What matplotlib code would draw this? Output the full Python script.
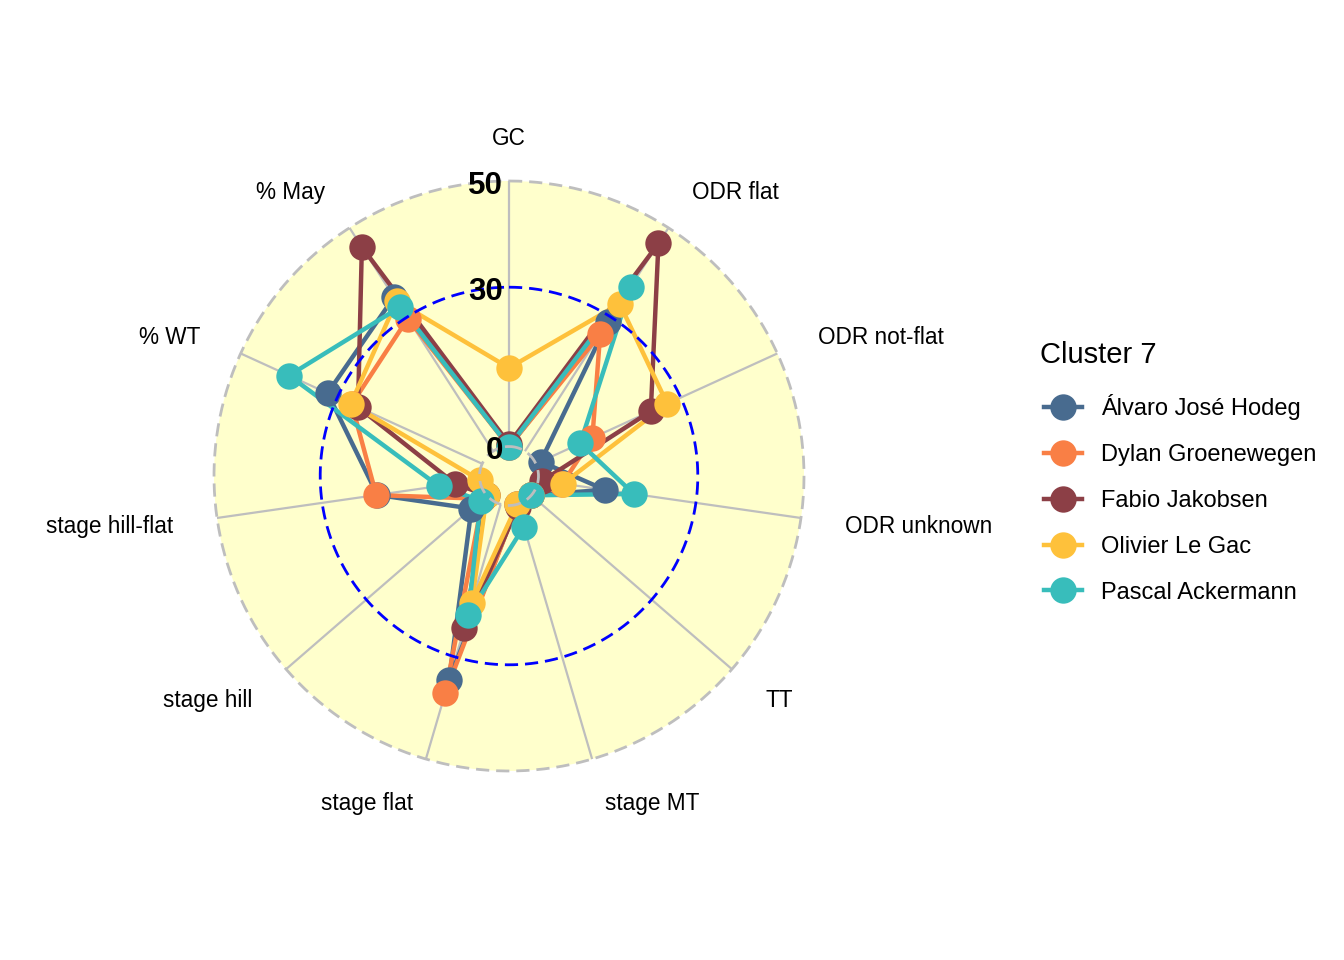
import numpy as np
import matplotlib.pyplot as plt
from matplotlib.patches import Circle
from matplotlib.lines import Line2D

plt.rcParams['font.family'] = ['Liberation Sans', 'DejaVu Sans']
plt.rcParams['lines.scale_dashes'] = False

# axes of the radar, clockwise from the top
categories = ['GC', 'ODR flat', 'ODR not-flat', 'ODR unknown', 'TT', 'stage MT',
              'stage flat', 'stage hill', 'stage hill-flat', '% WT', '% May']

riders = ['Álvaro José Hodeg', 'Dylan Groenewegen', 'Fabio Jakobsen',
          'Olivier Le Gac', 'Pascal Ackermann']
colors = ['#486b8f', '#f97f45', '#8c3f46', '#fec13b', '#38bdbb']

alvaro = [0, 29, 1, 12.7, 0, 0, 34.5, 3.8, 19.5, 32, 34.5]
dylan = [0, 26.2, 11.7, 4.6, 0, 0, 37, 1, 19.7, 27, 29.7]
fabio = [0.5, 46.5, 23.8, 0.8, 0, 0.5, 24.2, 0, 4.7, 25.7, 45.7]
olivier = [14.8, 33, 27.2, 4.7, 0, 0, 19.3, 0, 0, 27.2, 33.6]
pascal = [0, 36.8, 9.2, 18.2, 0, 4.4, 21.7, 1.5, 7.8, 40, 32.3]
values = [alvaro, dylan, fabio, olivier, pascal]

grid_min, grid_mid, grid_max = 0, 30, 50
centre_off = (grid_max - grid_min) / 9.0

# figure geometry
px = 5.31            # pixels per value unit
cx, cy = 509, 476    # centre of the radar in pixels
W, H = 1344, 960

fig = plt.figure(figsize=(W / 100, H / 100), dpi=100)
ax = fig.add_axes([0, 0, 1, 1])
ax.set_xlim(-cx / px, (W - cx) / px)
ax.set_ylim(-(H - cy) / px, cy / px)
ax.axis('off')

n = len(categories)
theta = 2 * np.pi * np.arange(n) / n


def to_xy(vals):
    r = np.asarray(vals, dtype=float) - grid_min + centre_off
    return r * np.sin(theta), r * np.cos(theta)


R = grid_max - grid_min + centre_off
R0 = centre_off

# background
ax.add_patch(Circle((0, 0), R, fc='#ffffcc', ec='none', zorder=0))

# axis lines
for t in theta:
    ax.plot([R0 * np.sin(t), R * np.sin(t)], [R0 * np.cos(t), R * np.cos(t)],
            color='#bebebe', lw=1.6, zorder=1, solid_capstyle='butt')

# data lines then points
for vals, c in zip(values, colors):
    x, y = to_xy(vals)
    ax.plot(np.append(x, x[0]), np.append(y, y[0]), color=c, lw=3.2, zorder=2)
for vals, c in zip(values, colors):
    x, y = to_xy(vals)
    ax.plot(x, y, 'o', color=c, ms=19, mew=0, zorder=3)

# grid circles
t = np.linspace(0, 2 * np.pi, 400)
for val, col in [(grid_min, '#bebebe'), (grid_mid, '#0000ff'), (grid_max, '#bebebe')]:
    r = val - grid_min + centre_off
    ax.plot(r * np.sin(t), r * np.cos(t), color=col, lw=2.0,
            linestyle=(0, (9.5, 5)), zorder=4)

# grid labels
for val in [grid_min, grid_mid, grid_max]:
    r = val - grid_min + centre_off
    ax.text(-1.2, r - 0.2, str(val), ha='right', va='center_baseline', fontsize=22.5,
            fontweight='bold', zorder=5)

# axis labels
for name, tt in zip(categories, theta):
    x = 1.15 * R * np.sin(tt)
    y = 1.15 * R * np.cos(tt) - 0.4
    ha = 'center' if abs(x) < 1e-6 else ('left' if x > 0 else 'right')
    ax.text(x, y, name, ha=ha, va='center', fontsize=16.3, zorder=5)

# legend
fig.text(1040 / W, 1 - 355 / H, 'Cluster 7', fontsize=21, ha='left', va='center')
handles = [Line2D([], [], color=c, lw=3.2, marker='o', ms=19, mew=0) for c in colors]
leg = ax.legend(handles, riders, loc='center left',
                bbox_to_anchor=(1044 / W, 1 - 499 / H), frameon=False,
                fontsize=17, handlelength=1.6,
                handletextpad=0.8, labelspacing=1.01, borderpad=0,
                borderaxespad=0)

fig.savefig('out.png', dpi=100)
